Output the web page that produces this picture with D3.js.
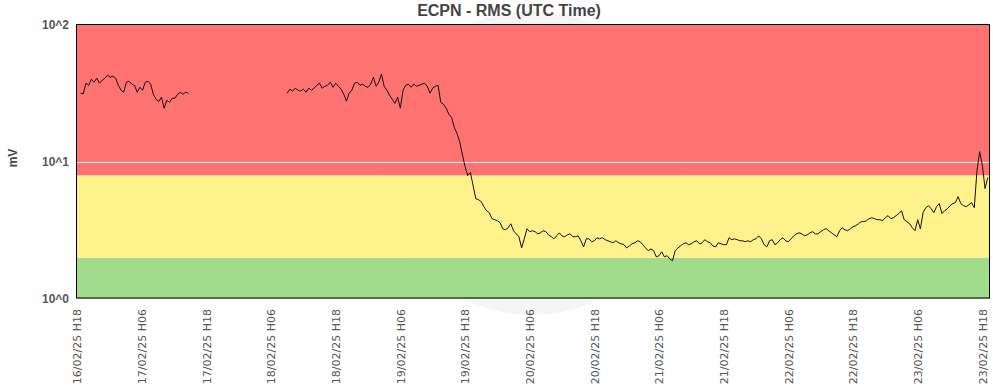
<!DOCTYPE html>
<html>
<head>
<meta charset="utf-8">
<script src="https://cdn.jsdelivr.net/npm/d3@7"></script>
<style>
  html, body { margin: 0; padding: 0; background: #fff; }
  svg { display: block; }
</style>
</head>
<body>
<svg id="chart" width="993" height="388"></svg>
<script>
// ---------------- data ----------------
const title = "ECPN - RMS (UTC Time)";
const yLabel = "mV";
const stepMinutes = 30;

const seg1Start = "16/02/25 18:40";
const seg1Values = [
  31.8,31.5,37.6,36.3,40.2,38.2,40.9,37.6,39.5,40.9,
  43.0,41.6,42.3,40.9,36.3,33.4,32.3,38.2,38.9,37.0,
  36.3,32.3,35.1,33.4,38.2,38.9,37.0,31.2,28.7,27.7,
  29.7,24.7,28.2,27.3,29.2,29.2,31.2,32.3,31.2,32.3,
  31.8
];

const seg2Start = "18/02/25 09:00";
const seg2Values = [
  31.8,34.0,32.9,34.6,33.4,32.9,34.0,32.3,34.6,33.4,
  34.6,36.3,37.6,34.6,35.7,36.3,38.2,35.1,37.6,35.7,
  34.0,31.2,27.8,31.8,33.4,37.6,38.2,36.3,37.0,35.7,
  35.1,37.0,41.6,35.7,38.2,43.8,35.7,33.4,30.7,28.7,
  26.8,29.7,24.7,33.4,36.3,37.0,35.1,37.0,35.7,36.3,
  37.0,37.6,35.7,31.8,34.6,35.7,36.3,27.3,26.4,24.7,
  22.3,21.2,17.9,16.2,14.1,11.4,9.27,7.96,8.38,6.73,
  5.40,5.31,5.14,4.72,4.41,4.27,3.86,3.79,3.73,3.61,
  3.26,3.20,3.31,3.54,3.15,2.99,2.85,2.36,2.75,3.26,
  3.10,3.15,3.10,2.99,3.04,3.15,3.10,2.94,2.85,2.75,
  2.89,3.04,2.89,2.85,2.94,2.99,2.85,2.85,2.89,2.66,
  2.40,2.75,2.75,2.62,2.66,2.80,2.75,2.80,2.71,2.66,
  2.62,2.57,2.66,2.57,2.53,2.49,2.36,2.44,2.53,2.57,
  2.66,2.62,2.49,2.36,2.25,2.32,2.25,2.03,2.07,2.21,
  2.03,2.07,1.96,1.90,2.25,2.36,2.44,2.53,2.57,2.49,
  2.53,2.62,2.66,2.53,2.57,2.71,2.62,2.57,2.44,2.40,
  2.57,2.53,2.49,2.49,2.80,2.71,2.75,2.71,2.66,2.66,
  2.62,2.66,2.62,2.71,2.75,2.89,2.75,2.49,2.40,2.66,
  2.71,2.49,2.57,2.71,2.80,2.66,2.62,2.75,2.89,2.99,
  3.04,2.99,2.89,2.94,3.04,3.10,2.99,2.99,3.10,3.20,
  3.26,3.15,3.04,2.94,2.85,3.15,3.31,3.20,3.15,3.26,
  3.37,3.43,3.54,3.67,3.67,3.73,3.86,3.92,3.86,3.79,
  3.79,3.73,3.92,4.06,3.86,3.92,4.06,4.20,4.41,3.79,
  3.67,3.54,3.31,3.15,3.79,3.26,4.27,4.64,4.80,4.56,
  4.27,4.72,4.97,4.20,4.41,4.56,4.80,4.97,5.05,5.59,
  4.97,4.80,4.72,4.88,5.05,4.64,8.66,11.9,9.44,6.40,
  7.70
];

const xDomain = ["16/02/25 18:00", "23/02/25 19:25"];
const xTickLabels = [
  "16/02/25 H18","17/02/25 H06","17/02/25 H18","18/02/25 H06","18/02/25 H18",
  "19/02/25 H06","19/02/25 H18","20/02/25 H06","20/02/25 H18","21/02/25 H06",
  "21/02/25 H18","22/02/25 H06","22/02/25 H18","23/02/25 H06","23/02/25 H18"
];
const yDomain = [1, 100];
const yTickValues = [1, 10, 100];
const yTickLabels = ["10^0", "10^1", "10^2"];
const gridValues = [10];

// bands: [from, to, color]
const bandLimits = [1, 2, 8, 100];
const bandColors = ["#a0dc8c", "#fff28c", "#ff7272"];

// ---------------- drawing ----------------
const parseT = d3.utcParse("%d/%m/%y %H:%M");
const parseTick = d3.utcParse("%d/%m/%y H%H");

const svg = d3.select("#chart");
const L = 77, R = 990, T = 25, B = 299;

const x = d3.scaleUtc().domain(xDomain.map(parseT)).range([L, R]);
const y = d3.scaleLog().domain(yDomain).range([B, T]);

// faint watermark disc
svg.append("circle").attr("cx", 532).attr("cy", 163).attr("r", 152)
  .attr("fill", "#f5f5f5");

// bands
svg.append("g").selectAll("rect").data(bandColors).join("rect")
  .attr("x", L).attr("width", R - L)
  .attr("y", (c, i) => y(bandLimits[i + 1]))
  .attr("height", (c, i) => y(bandLimits[i]) - y(bandLimits[i + 1]))
  .attr("fill", c => c);

// grid
svg.append("g").selectAll("line").data(gridValues).join("line")
  .attr("x1", L).attr("x2", R)
  .attr("y1", d => Math.round(y(d)) + 0.5).attr("y2", d => Math.round(y(d)) + 0.5)
  .attr("stroke", "#f4f4f4").attr("stroke-width", 1);

// series
function toPoints(start, vals) {
  const t0 = parseT(start);
  return vals.map((v, i) => ({ t: d3.utcMinute.offset(t0, i * stepMinutes), v }));
}
const segments = [toPoints(seg1Start, seg1Values), toPoints(seg2Start, seg2Values)];

svg.append("clipPath").attr("id", "clip").append("rect")
  .attr("x", L).attr("y", T).attr("width", R - L).attr("height", B - T);

const line = d3.line().x(d => x(d.t)).y(d => y(d.v));
svg.append("g").attr("clip-path", "url(#clip)")
  .selectAll("path").data(segments).join("path")
  .attr("d", line)
  .attr("fill", "none").attr("stroke", "#111").attr("stroke-width", 1)
  .attr("stroke-linejoin", "round");

// frame
svg.append("rect").attr("x", L - 0.5).attr("y", T - 0.5)
  .attr("width", R - L).attr("height", B - T - 0.5)
  .attr("fill", "none").attr("stroke", "#000").attr("stroke-width", 1);

// x axis
const xAxis = d3.axisBottom(x)
  .tickValues(xTickLabels.map(parseTick))
  .tickFormat((d, i) => xTickLabels[i])
  .tickSize(0);
const gx = svg.append("g").attr("transform", `translate(0,${B - 1})`).call(xAxis);
gx.select(".domain").remove();
gx.selectAll("text")
  .attr("transform", "rotate(-90)")
  .attr("x", -11).attr("y", 0).attr("dy", "0.35em")
  .style("text-anchor", "end")
  .style("font-family", "'DejaVu Sans', sans-serif")
  .style("font-size", "11px")
  .style("fill", "#555");

// y axis
const yAxis = d3.axisLeft(y)
  .tickValues(yTickValues)
  .tickFormat((d, i) => yTickLabels[i])
  .tickSize(0).tickPadding(8);
const gy = svg.append("g").attr("transform", `translate(${L},0)`).call(yAxis);
gy.select(".domain").remove();
gy.selectAll("text")
  .style("font-family", "'Liberation Sans', Arial, sans-serif")
  .style("font-size", "12px").style("font-weight", "bold")
  .style("fill", "#555");

// title
svg.append("text").attr("x", 509).attr("y", 16)
  .attr("text-anchor", "middle")
  .style("font-family", "'Liberation Sans', Arial, sans-serif")
  .style("font-size", "16px").style("font-weight", "bold")
  .style("fill", "#444")
  .text(title);

// y label
svg.append("text")
  .attr("transform", "translate(17,158) rotate(-90)")
  .attr("text-anchor", "middle")
  .style("font-family", "'Liberation Sans', Arial, sans-serif")
  .style("font-size", "12px").style("font-weight", "bold")
  .style("fill", "#444")
  .text(yLabel);
</script>
</body>
</html>
